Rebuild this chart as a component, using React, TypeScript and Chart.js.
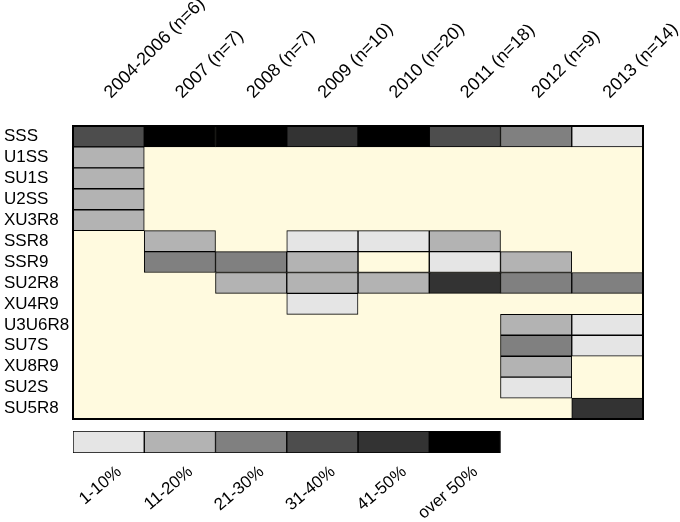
import React, { useEffect, useRef } from "react";
import { Chart, registerables } from "chart.js";

Chart.register(...registerables);

const rowLabels = [
  "SSS", "U1SS", "SU1S", "U2SS", "XU3R8", "SSR8", "SSR9",
  "SU2R8", "XU4R9", "U3U6R8", "SU7S", "XU8R9", "SU2S", "SU5R8",
];

const columnLabels = [
  "2004-2006 (n=6)", "2007 (n=7)", "2008 (n=7)", "2009 (n=10)",
  "2010 (n=20)", "2011 (n=18)", "2012 (n=9)", "2013 (n=14)",
];

const legendLabels = ["1-10%", "11-20%", "21-30%", "31-40%", "41-50%", "over 50%"];

// level 0 = cell present but empty, 1..6 = shading class, null = no cell
const levelColors = ["#fffadf", "#e5e5e5", "#b3b3b3", "#808080", "#4d4d4d", "#333333", "#000000"];

const _ = null;
const cellLevels: (number | null)[][] = [
  [4, 6, 6, 5, 6, 4, 3, 1], // SSS
  [2, _, _, _, _, _, _, _], // U1SS
  [2, _, _, _, _, _, _, _], // SU1S
  [2, _, _, _, _, _, _, _], // U2SS
  [2, _, _, _, _, _, _, _], // XU3R8
  [_, 2, _, 1, 1, 2, _, _], // SSR8
  [_, 3, 3, 2, 0, 1, 2, _], // SSR9
  [_, _, 2, 2, 2, 5, 3, 3], // SU2R8
  [_, _, _, 1, _, _, _, _], // XU4R9
  [_, _, _, _, _, _, 2, 1], // U3U6R8
  [_, _, _, _, _, _, 3, 1], // SU7S
  [_, _, _, _, _, _, 2, _], // XU8R9
  [_, _, _, _, _, _, 1, _], // SU2S
  [_, _, _, _, _, _, _, 5], // SU5R8
];

const FONT_FAMILY = "'Liberation Sans', Arial, Helvetica, sans-serif";
const CREAM = "#fffadf";

const areaPlugin = {
  id: "areaPlugin",
  beforeDatasetsDraw(chart: any) {
    const { ctx, chartArea } = chart;
    ctx.save();
    ctx.fillStyle = CREAM;
    ctx.fillRect(chartArea.left, chartArea.top, chartArea.right - chartArea.left, chartArea.bottom - chartArea.top);
    ctx.restore();
  },
  afterDatasetsDraw(chart: any) {
    const { ctx, chartArea } = chart;
    ctx.save();
    ctx.strokeStyle = "#000";
    ctx.lineWidth = 2;
    ctx.strokeRect(chartArea.left, chartArea.top, chartArea.right - chartArea.left, chartArea.bottom - chartArea.top);
    ctx.restore();
  },
};

function zeroPadding(scale: any) {
  scale.paddingLeft = 0;
  scale.paddingRight = 0;
  scale.paddingTop = 0;
  scale.paddingBottom = 0;
}

export default function App() {
  const gridRef = useRef<HTMLCanvasElement>(null);
  const legendRef = useRef<HTMLCanvasElement>(null);

  useEffect(() => {
    const datasets = columnLabels.map((_lbl, c) => ({
      label: columnLabels[c],
      data: cellLevels.map((row) => (row[c] === null ? null : [c, c + 1])),
      backgroundColor: cellLevels.map((row) => levelColors[row[c] ?? 0]),
      borderColor: "#000",
      borderWidth: 1,
      borderSkipped: false,
      grouped: false,
      barPercentage: 1,
      categoryPercentage: 1,
    }));

    const grid = new Chart(gridRef.current!, {
      type: "bar",
      data: { labels: rowLabels, datasets: datasets as any },
      options: {
        indexAxis: "y",
        animation: false,
        responsive: false,
        layout: { padding: { left: 4, right: 37, top: 0, bottom: 6 } },
        plugins: { legend: { display: false }, tooltip: { enabled: false } },
        scales: {
          x: { type: "linear", min: 0, max: 8, display: false },
          x2: {
            type: "linear",
            position: "top",
            min: 0,
            max: 8,
            grid: { display: false, drawTicks: false },
            border: { display: false },
            afterBuildTicks: (s: any) => {
              s.ticks = columnLabels.map((_l, i) => ({ value: i + 0.7 }));
            },
            afterFit: (s: any) => {
              s.height = 126;
              zeroPadding(s);
            },
            ticks: {
              autoSkip: false,
              minRotation: 45,
              maxRotation: 45,
              padding: 23,
              color: "#000",
              font: { family: FONT_FAMILY, size: 18 },
              callback: (_v: any, i: number) => columnLabels[i],
            },
          },
          y: {
            type: "category",
            grid: { display: false, drawTicks: false },
            border: { display: false },
            afterFit: (s: any) => {
              s.width = 69;
              zeroPadding(s);
            },
            ticks: {
              autoSkip: false,
              crossAlign: "far",
              color: "#000",
              font: { family: FONT_FAMILY, size: 17 },
            },
          },
        },
      },
      plugins: [areaPlugin],
    });

    const legendDatasets = legendLabels.map((lbl, i) => ({
      label: lbl,
      data: [[i, i + 1]],
      backgroundColor: levelColors[i + 1],
      borderColor: "#000",
      borderWidth: 1,
      borderSkipped: false,
      grouped: false,
      barPercentage: 1,
      categoryPercentage: 1,
    }));

    const legend = new Chart(legendRef.current!, {
      type: "bar",
      data: { labels: [""], datasets: legendDatasets as any },
      options: {
        indexAxis: "y",
        animation: false,
        responsive: false,
        layout: { padding: { left: 73, right: 37, top: 6, bottom: 0 } },
        plugins: { legend: { display: false }, tooltip: { enabled: false } },
        scales: {
          x: {
            type: "linear",
            position: "bottom",
            min: 0,
            max: 8,
            grid: { display: false, drawTicks: false },
            border: { display: false },
            afterBuildTicks: (s: any) => {
              s.ticks = legendLabels.map((_l, i) => ({ value: i + 0.65 }));
            },
            afterFit: (s: any) => {
              s.height = 69;
              zeroPadding(s);
            },
            ticks: {
              autoSkip: false,
              minRotation: 40,
              maxRotation: 40,
              padding: 9,
              color: "#000",
              font: { family: FONT_FAMILY, size: 17 },
              callback: (_v: any, i: number) => legendLabels[i],
            },
          },
          y: { type: "category", display: false },
        },
      },
    });

    return () => {
      grid.destroy();
      legend.destroy();
    };
  }, []);

  return (
    <div style={{ position: "fixed", left: 0, top: 0, width: 680, height: 522, background: "#fff", overflow: "hidden" }}>
      <canvas ref={gridRef} width={680} height={425} style={{ position: "absolute", left: 0, top: 0, width: 680, height: 425 }} />
      <canvas ref={legendRef} width={680} height={97} style={{ position: "absolute", left: 0, top: 425, width: 680, height: 97 }} />
    </div>
  );
}
